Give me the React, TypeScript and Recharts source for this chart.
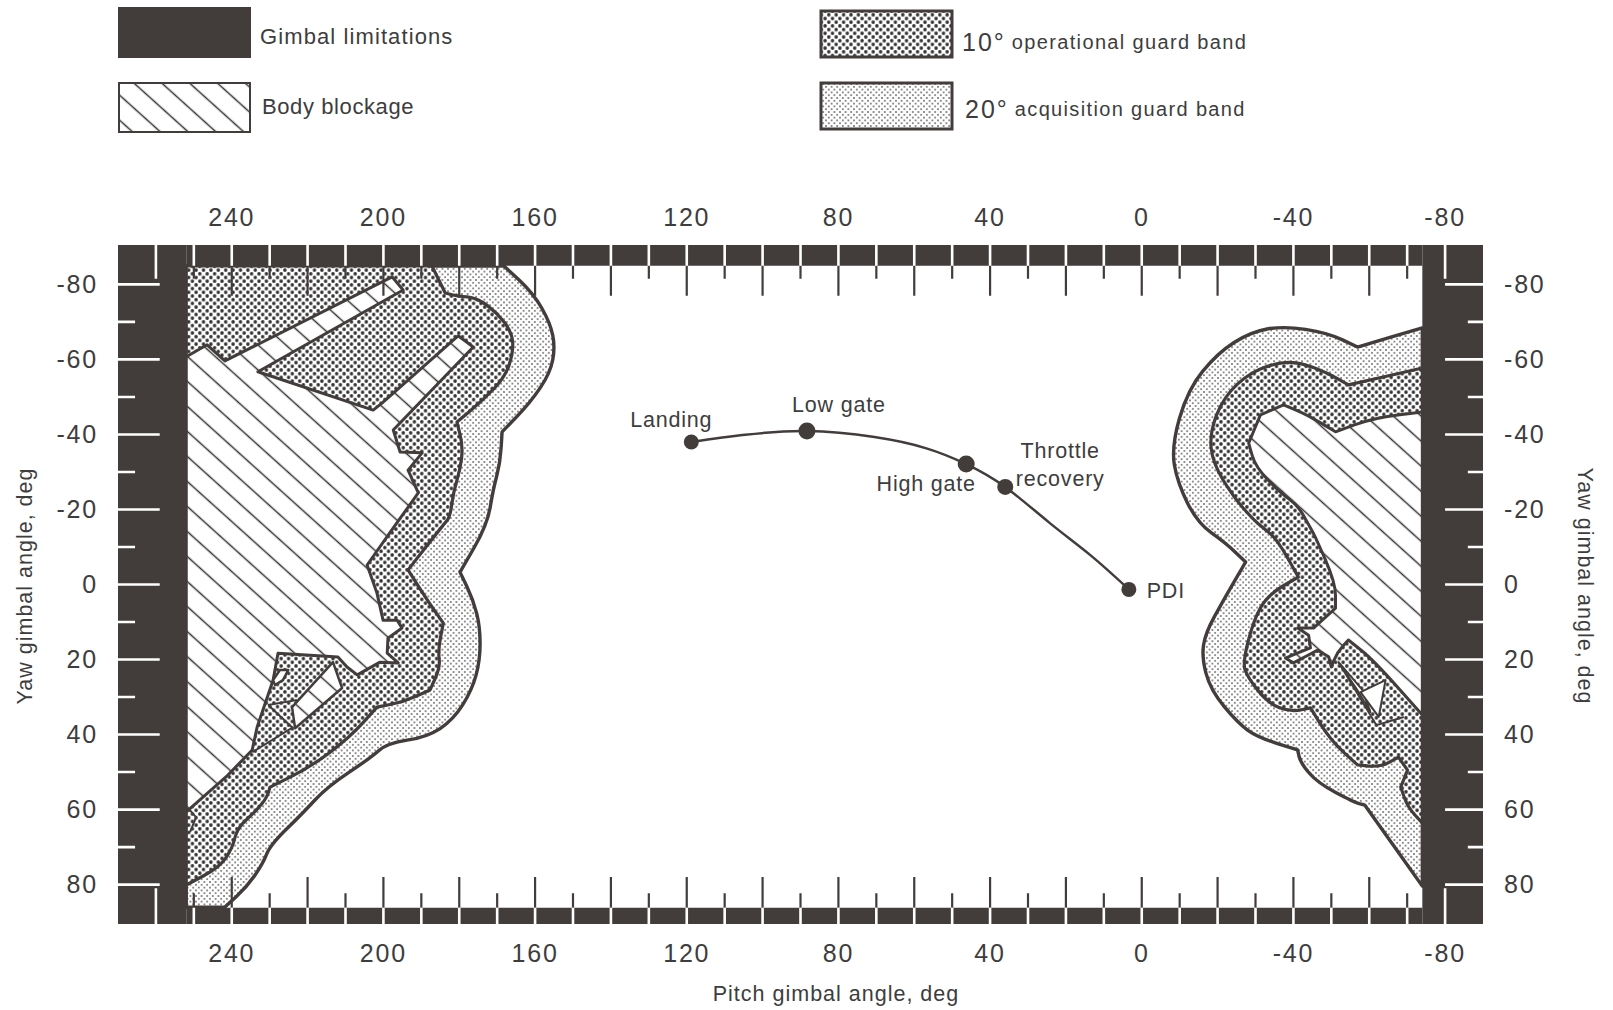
import { ScatterChart, Scatter, XAxis, YAxis } from 'recharts';

const INK = '#423d3b';
const TEXT = '#3d3d3d';
const FONT = '"Liberation Sans", Arial, sans-serif';

// axis ranges, deg
const PITCH_DOMAIN = [-90, 270];
const YAW_DOMAIN = [-90.5, 90.5];
const PITCH_LABELS = [240, 200, 160, 120, 80, 40, 0, -40, -80];
const YAW_LABELS = [-80, -60, -40, -20, 0, 20, 40, 60, 80];
const PITCH_LONG = [240, 220, 200, 180, 160, 140, 120, 100, 80, 60, 40, 20, 0, -20, -40, -60];
const PITCH_SHORT = [250, 230, 210, 190, 170, 150, 130, 110, 90, 70, 50, 30, 10, -10, -30, -50, -70];
const YAW_LONG = [-80, -60, -40, -20, 0, 20, 40, 60, 80];
const YAW_SHORT = [-70, -50, -30, -10, 10, 30, 50, 70];

// edges of the gimbal limit band
const IN_LEFT = 252;
const IN_RIGHT = -74;
const IN_TOP = -85;
const IN_BOTTOM = 86.2;

// [pitch, yaw] outlines
const acquisitionLeft = [
  [168.2, -84.9], [160.5, -77.7], [156, -69.7], [154.7, -63.3], [156, -56.4], [161.3, -48.4], [168.7, -40.7],
  [169.2, -32.4], [171.1, -25.2], [172.6, -15.9], [179.8, -3.3], [176.3, 4.1], [174.5, 11.3], [174.5, 20.1],
  [176.6, 28.1], [181.6, 36.1], [188.5, 40.7], [199, 42.3], [203.5, 46.3], [214.9, 54], [221.2, 60.9],
  [229.9, 69.5], [231.7, 74.3], [236, 80.6], [241.8, 86], [252, 86], [252, -84.9],
];
const operationalLeft = [
  [187.2, -84.9], [183.7, -77.7], [180.6, -76.9], [175.3, -76.4], [170, -72.4], [166, -67.1], [165.8, -61.7],
  [167.9, -55.3], [173.7, -49.2], [180.6, -43.3], [179, -36.7], [179.8, -30.5], [181.6, -24.4], [182.4, -18],
  [184.2, -15.9], [193.5, -3.9], [188.5, 4.1], [184.2, 10.3], [185.6, 17.5], [185, 22], [187.7, 28.1],
  [194.8, 31.3], [201.7, 32.7], [208.8, 40.7], [219.3, 48.7], [229.9, 54], [230.7, 56.7], [233.3, 60.1],
  [238.6, 64.9], [239.7, 70], [243.1, 75.3], [252, 80.1], [252, -84.9],
];
const blockageLeft = [
  [252, -60.7], [246.5, -63.9], [241.8, -59.6], [197.7, -82], [194.8, -78.5], [233.1, -56.7], [202.7, -46.5],
  [200.3, -48.4], [180.3, -66.3], [176.3, -63.3], [197.4, -41.2], [195.6, -35.3], [189.8, -35.1], [193.5, -30.5],
  [190.8, -24.4], [197.4, -15.1], [204.3, -5.2], [201.7, 2.3], [200.1, 9.5], [196.4, 9.5], [195.1, 11.6],
  [198.8, 14.3], [199, 18.3], [196.1, 20.9], [200.9, 20.7], [206.9, 24.1], [209.6, 22], [212, 19.3],
  [227.8, 18.3], [229.1, 25.5], [233.3, 38], [234.6, 44.1], [241, 50.8], [252, 60.6],
];
const blockageLeftStrip = [[213.3, 20.7], [210.9, 27.6], [223.3, 38.3], [224.1, 32.7]];
const blockageLeftOval = [[225.1, 22.8], [226.5, 25.5], [228.6, 26.8], [229.1, 25.5], [227.3, 22.8]];
const detailLinesLeft = [
  [[230.4, 32.1], [222.8, 30.8]],
  [[230.4, 32.1], [223.8, 38.3]],
  [[234.6, 44.7], [223.8, 38]],
  [[251.5, 59.6], [249.4, 62], [251, 66]],
];

const acquisitionRight = [
  [-74, -68.4], [-56.9, -63.3], [-49, -67.1], [-37.4, -68.9], [-28.7, -67.3], [-20, -61.7], [-12.1, -51.9],
  [-7.8, -36.7], [-9.4, -27.1], [-14.7, -16.4], [-22.1, -11.1], [-27.4, -6], [-21.6, 4.1], [-16.8, 12.9],
  [-15.8, 19.3], [-18.1, 28.1], [-25.3, 36.9], [-30.5, 40.7], [-41.1, 44.1], [-41.9, 47.6], [-46.4, 52.9],
  [-55.9, 58], [-58.8, 58.8], [-74, 80.4],
];
const operationalRight = [
  [-74, -57.7], [-54.5, -53.2], [-49, -56.4], [-41.9, -59.1], [-36.6, -59.3], [-28.7, -56.7], [-21.6, -50],
  [-17.9, -40.4], [-18.7, -32.4], [-24.2, -23.3], [-29.5, -17.2], [-32.1, -15.1], [-35.8, -11.9], [-41.3, -2],
  [-33.2, 2.8], [-29.5, 9.5], [-26.6, 20.9], [-27.9, 24.7], [-33.2, 31.6], [-39.2, 34], [-44.5, 32.9],
  [-49.8, 41.5], [-56.9, 48.1], [-63, 48.7], [-67.7, 46], [-70.1, 49.5], [-68.3, 54], [-70.1, 59.3], [-74, 63.6],
];
const blockageRight = [
  [-74, -46], [-61.1, -44.4], [-51.1, -40.7], [-43.7, -45.2], [-37.4, -47.9], [-31.3, -45.2], [-28.2, -37.7],
  [-30, -31.3], [-36.6, -24.4], [-41.1, -21.2], [-44.5, -15.1], [-45.8, -12.7], [-51.1, -0.4], [-51.1, 6.3],
  [-45.3, 11.6], [-41.1, 11.6], [-44, 13.5], [-44.5, 16.9], [-37.9, 19.6], [-40, 20.9], [-46.4, 17.5],
  [-49.3, 19.3], [-50, 22], [-51.6, 18], [-54.5, 14.8], [-61.1, 20.1], [-74, 34.8],
];
const blockageRightStrip = [[-51.9, 20.7], [-57.2, 28.7], [-60.3, 34], [-58.2, 28.1]];
const blockageRightTriangle = [[-57.7, 28.7], [-64.3, 25.5], [-62.5, 35.3]];
const detailLinesRight = [
  [[-51.9, 20.7], [-61.9, 37.5], [-69.1, 35.3]],
];

// ground track
const trackLine = [
  [118.8, -38], [104.6, -39.9], [88.3, -40.9], [70.5, -39.3], [56.8, -36.3], [46.3, -32.1], [36, -26],
  [24.4, -16.5], [13.4, -7.7], [3.4, 1.3],
];
const eventNames = ['Landing', 'Low gate', 'High gate', 'Throttle|recovery', 'PDI'];
const eventPitch = [118.8, 88.3, 46.3, 36, 3.4];
const eventYaw = [-38, -40.9, -32.1, -26, 1.3];

const legendSolidNames = ['Gimbal limitations', 'Body blockage'];
const legendBandLeads = ['10°', '20°'];
const legendBandNames = ['operational guard band', 'acquisition guard band'];

// label placement around each event dot, px
const EVENT_LABEL_DX = [-20, 32, -40, 55, 37];
const EVENT_LABEL_DY = [-22, -26, 20, -36, 2];
const EVENT_RADIUS = [7.5, 8.5, 8.5, 8, 7.5];

const toPoints = (rows: number[][]) => rows.map(([pitch, yaw]) => ({ pitch, yaw }));

const noDot = () => <g />;

// gentle bends get rounded off, real corners of the outline stay sharp
const SHARP_TURN = 36;
const roundedPath = (pts: any[]) => {
  const n = pts.length;
  const mid = (a: any, b: any) => `${(a.x + b.x) / 2} ${(a.y + b.y) / 2}`;
  let d = `M${mid(pts[n - 1], pts[0])}`;
  pts.forEach((p, i) => {
    const prev = pts[(i + n - 1) % n];
    const next = pts[(i + 1) % n];
    let turn = Math.abs(Math.atan2(next.y - p.y, next.x - p.x) - Math.atan2(p.y - prev.y, p.x - prev.x)) * 180 / Math.PI;
    if (turn > 180) turn = 360 - turn;
    d += turn < SHARP_TURN ? ` Q${p.x} ${p.y} ${mid(p, next)}` : ` L${p.x} ${p.y} L${mid(p, next)}`;
  });
  return d + ' Z';
};

const polygon = (fill: string, strokeWidth = 3, stroke = INK, rounded = false) => (props: any) => {
  const d = rounded
    ? roundedPath(props.points)
    : props.points.map((p: any, i: number) => `${i ? 'L' : 'M'}${p.x} ${p.y}`).join(' ') + ' Z';
  return <path d={d} fill={fill} stroke={stroke} strokeWidth={strokeWidth} strokeLinejoin="round" />;
};

const polyline = (strokeWidth: number) => (props: any) => {
  const d = props.points.map((p: any, i: number) => `${i ? 'L' : 'M'}${p.x} ${p.y}`).join(' ');
  return <path d={d} fill="none" stroke={INK} strokeWidth={strokeWidth} />;
};

// every two points make one separate stroke
const strokes = (stroke: string, strokeWidth: number) => (props: any) => {
  const d = props.points.map((p: any, i: number) => `${i % 2 ? 'L' : 'M'}${p.x} ${p.y}`).join(' ');
  return <path d={d} fill="none" stroke={stroke} strokeWidth={strokeWidth} />;
};

const rect = (p1: number, p2: number, y1: number, y2: number) => [[p1, y1], [p2, y1], [p2, y2], [p1, y2]];

const gimbalBands = [
  rect(PITCH_DOMAIN[1], IN_LEFT, YAW_DOMAIN[0], YAW_DOMAIN[1]),
  rect(IN_RIGHT, PITCH_DOMAIN[0], YAW_DOMAIN[0], YAW_DOMAIN[1]),
  rect(IN_LEFT, IN_RIGHT, YAW_DOMAIN[0], IN_TOP),
  rect(IN_LEFT, IN_RIGHT, IN_BOTTOM, YAW_DOMAIN[1]),
];

// pairs of points for the tick strokes
const vertical = (pitches: number[], y1: number, y2: number) =>
  pitches.flatMap((p) => [{ pitch: p, yaw: y1 }, { pitch: p, yaw: y2 }]);
const horizontal = (yaws: number[], p1: number, p2: number) =>
  yaws.flatMap((y) => [{ pitch: p1, yaw: y }, { pitch: p2, yaw: y }]);

const allPitch = [...PITCH_LONG, ...PITCH_SHORT];
const whiteTicks = [
  ...vertical(allPitch, YAW_DOMAIN[0], IN_TOP),
  ...vertical(allPitch, IN_BOTTOM, YAW_DOMAIN[1]),
  ...vertical([260, -80], YAW_DOMAIN[0], -81.5),
  ...vertical([260, -80], 81, YAW_DOMAIN[1]),
  ...horizontal(YAW_LONG, 270, 259),
  ...horizontal(YAW_SHORT, 270, 265.5),
  ...horizontal(YAW_LONG, -80, -90),
  ...horizontal(YAW_SHORT, -86, -90),
];
const darkTicks = [
  ...vertical(PITCH_LONG, IN_TOP, -77),
  ...vertical(PITCH_SHORT, IN_TOP, -81.5),
  ...vertical(PITCH_LONG, 78, IN_BOTTOM),
  ...vertical(PITCH_SHORT, 82.3, IN_BOTTOM),
];

const EventDot = (props: any) => {
  const i = props.payload.index;
  const x = props.cx + EVENT_LABEL_DX[i];
  const y = props.cy + EVENT_LABEL_DY[i];
  const lines = eventNames[i].split('|');
  return (
    <g>
      <circle cx={props.cx} cy={props.cy} r={EVENT_RADIUS[i]} fill={INK} />
      {lines.map((line, k) => (
        <text key={k} x={x} y={y + k * 28} textAnchor="middle" dominantBaseline="central"
          fontFamily={FONT} fontSize={21.5} letterSpacing={0.8} fill={TEXT}>
          {line}
        </text>
      ))}
    </g>
  );
};

const eventPoints = eventNames.map((name, index) => ({ name, index, pitch: eventPitch[index], yaw: eventYaw[index] }));

const tickStyle = { fontFamily: FONT, fontSize: 25, fill: TEXT, letterSpacing: 1.8 };

function LegendBlock() {
  const solidFills = [INK, 'url(#hatch)'];
  const solidY = [8, 83];
  const solidTextX = [260, 262];
  const solidTextY = [36, 106];
  const solidSpacing = [1.1, 0.6];
  const bandFills = ['url(#heavyDots)', 'url(#lightDots)'];
  const bandY = [11, 83];
  const bandTextX = [962, 965];
  const bandTextY = [42, 109];
  return (
    <svg width={1613} height={150} style={{ position: 'absolute', left: 0, top: 0 }}>
      <defs>
        <pattern id="heavyDots" width={7.4} height={7.4} patternUnits="userSpaceOnUse">
          <rect width={7.4} height={7.4} fill="#fff" />
          <circle cx={0} cy={0} r={1.75} fill="#333" />
          <circle cx={7.4} cy={0} r={1.75} fill="#333" />
          <circle cx={0} cy={7.4} r={1.75} fill="#333" />
          <circle cx={7.4} cy={7.4} r={1.75} fill="#333" />
          <circle cx={3.7} cy={3.7} r={1.75} fill="#333" />
        </pattern>
        <pattern id="lightDots" width={5.6} height={5.6} patternUnits="userSpaceOnUse">
          <rect width={5.6} height={5.6} fill="#fff" />
          <circle cx={0} cy={0} r={0.85} fill="#555" />
          <circle cx={5.6} cy={0} r={0.85} fill="#555" />
          <circle cx={0} cy={5.6} r={0.85} fill="#555" />
          <circle cx={5.6} cy={5.6} r={0.85} fill="#555" />
          <circle cx={2.8} cy={2.8} r={0.85} fill="#555" />
        </pattern>
        <pattern id="hatch" width={30} height={18.6} patternUnits="userSpaceOnUse" patternTransform="rotate(42)">
          <rect width={30} height={18.6} fill="#fff" />
          <line x1={0} x2={30} y1={9.3} y2={9.3} stroke="#333" strokeWidth={1.5} />
        </pattern>
      </defs>
      {legendSolidNames.map((name, i) => (
        <g key={name}>
          <rect x={119} y={solidY[i]} width={131} height={49} fill={solidFills[i]} stroke={INK} strokeWidth={2} />
          <text x={solidTextX[i]} y={solidTextY[i]} dominantBaseline="central" fontFamily={FONT} fontSize={22}
            letterSpacing={solidSpacing[i]} fill={TEXT}>
            {name}
          </text>
        </g>
      ))}
      {legendBandNames.map((name, i) => (
        <g key={name}>
          <rect x={821} y={bandY[i]} width={131} height={46} fill={bandFills[i]} stroke={INK} strokeWidth={3} />
          <text x={bandTextX[i]} y={bandTextY[i]} dominantBaseline="central" fontFamily={FONT} fontSize={20}
            letterSpacing={1.35} fill={TEXT}>
            <tspan fontSize={25} letterSpacing={2}>{legendBandLeads[i]}</tspan>
            <tspan dx={6}>{name}</tspan>
          </text>
        </g>
      ))}
    </svg>
  );
}

const titleCss: any = {
  position: 'absolute',
  whiteSpace: 'nowrap',
  fontFamily: FONT,
  fontSize: 21.5,
  letterSpacing: 1,
  color: TEXT,
  transform: 'translate(-50%, -50%)',
};

export default function App() {
  const series = [
    { key: 'acqL', data: acquisitionLeft, draw: polygon('url(#lightDots)', 3.4, INK, true) },
    { key: 'acqR', data: acquisitionRight, draw: polygon('url(#lightDots)', 3.4, INK, true) },
    { key: 'opL', data: operationalLeft, draw: polygon('url(#heavyDots)', 3.2, INK, true) },
    { key: 'opR', data: operationalRight, draw: polygon('url(#heavyDots)', 3.2, INK, true) },
    { key: 'blockL', data: blockageLeft, draw: polygon('url(#hatch)') },
    { key: 'blockR', data: blockageRight, draw: polygon('url(#hatch)', 3, INK, true) },
    { key: 'stripL', data: blockageLeftStrip, draw: polygon('url(#hatch)', 2.5) },
    { key: 'ovalL', data: blockageLeftOval, draw: polygon('#fff', 2.5) },
    { key: 'stripR', data: blockageRightStrip, draw: polygon('#fff', 2) },
    { key: 'triR', data: blockageRightTriangle, draw: polygon('#fff', 2) },
  ];
  return (
    <div style={{ position: 'absolute', left: 0, top: 0, width: 1613, height: 1010, background: '#fff', overflow: 'hidden' }}>
      <LegendBlock />
      <div style={{ position: 'absolute', left: 0, top: 0 }}>
        <ScatterChart width={1613} height={1010} margin={{ top: 205, right: 30, bottom: 26, left: 58 }}>
          <XAxis xAxisId="bottom" orientation="bottom" type="number" dataKey="pitch" domain={PITCH_DOMAIN} reversed
            ticks={PITCH_LABELS} interval={0} height={60} axisLine={false} tickLine={false} tickSize={0} tickMargin={20}
            tick={tickStyle} allowDataOverflow />
          <XAxis xAxisId="top" orientation="top" type="number" dataKey="pitch" domain={PITCH_DOMAIN} reversed
            ticks={PITCH_LABELS} interval={0} height={40} axisLine={false} tickLine={false} tickSize={0} tickMargin={19}
            tick={tickStyle} allowDataOverflow />
          <YAxis yAxisId="left" orientation="left" type="number" dataKey="yaw" domain={YAW_DOMAIN} reversed
            ticks={YAW_LABELS} interval={0} width={60} axisLine={false} tickLine={false} tickSize={0} tickMargin={20}
            tick={tickStyle} allowDataOverflow />
          <YAxis yAxisId="right" orientation="right" type="number" dataKey="yaw" domain={YAW_DOMAIN} reversed
            ticks={YAW_LABELS} interval={0} width={100} axisLine={false} tickLine={false} tickSize={0} tickMargin={21}
            tick={tickStyle} allowDataOverflow />

          {series.map((s) => (
            <Scatter key={s.key} xAxisId="bottom" yAxisId="left" dataKey="yaw" data={toPoints(s.data)} line={s.draw}
              shape={noDot} isAnimationActive={false} />
          ))}
          {detailLinesLeft.concat(detailLinesRight).map((rows, i) => (
            <Scatter key={`detail-${i}`} xAxisId="bottom" yAxisId="left" dataKey="yaw" data={toPoints(rows)} line={polyline(2)}
              shape={noDot} isAnimationActive={false} />
          ))}
          {gimbalBands.map((band, i) => (
            <Scatter key={`band-${i}`} xAxisId="bottom" yAxisId="left" dataKey="yaw" data={toPoints(band)} line={polygon(INK, 0, 'none')}
              shape={noDot} isAnimationActive={false} />
          ))}
          <Scatter xAxisId="bottom" yAxisId="left" dataKey="yaw" data={darkTicks} line={strokes(INK, 2.2)} shape={noDot} isAnimationActive={false} />
          <Scatter xAxisId="bottom" yAxisId="left" dataKey="yaw" data={whiteTicks} line={strokes('#fff', 2.6)} shape={noDot} isAnimationActive={false} />

          <Scatter xAxisId="bottom" yAxisId="left" dataKey="yaw" data={toPoints(trackLine)} line={{ stroke: INK, strokeWidth: 2.5 }}
            lineJointType="natural" shape={noDot} isAnimationActive={false} />
          <Scatter xAxisId="bottom" yAxisId="left" dataKey="yaw" data={eventPoints} shape={EventDot} isAnimationActive={false} />
        </ScatterChart>
      </div>
      <div style={{ ...titleCss, left: 836, top: 994 }}>Pitch gimbal angle, deg</div>
      {/* yaw axis titles run along the sides */}
      <div style={{ ...titleCss, left: 25, top: 586, transform: 'translate(-50%, -50%) rotate(-90deg)' }}>Yaw gimbal angle, deg</div>
      <div style={{ ...titleCss, left: 1584, top: 586, transform: 'translate(-50%, -50%) rotate(90deg)' }}>Yaw gimbal angle, deg</div>
    </div>
  );
}
